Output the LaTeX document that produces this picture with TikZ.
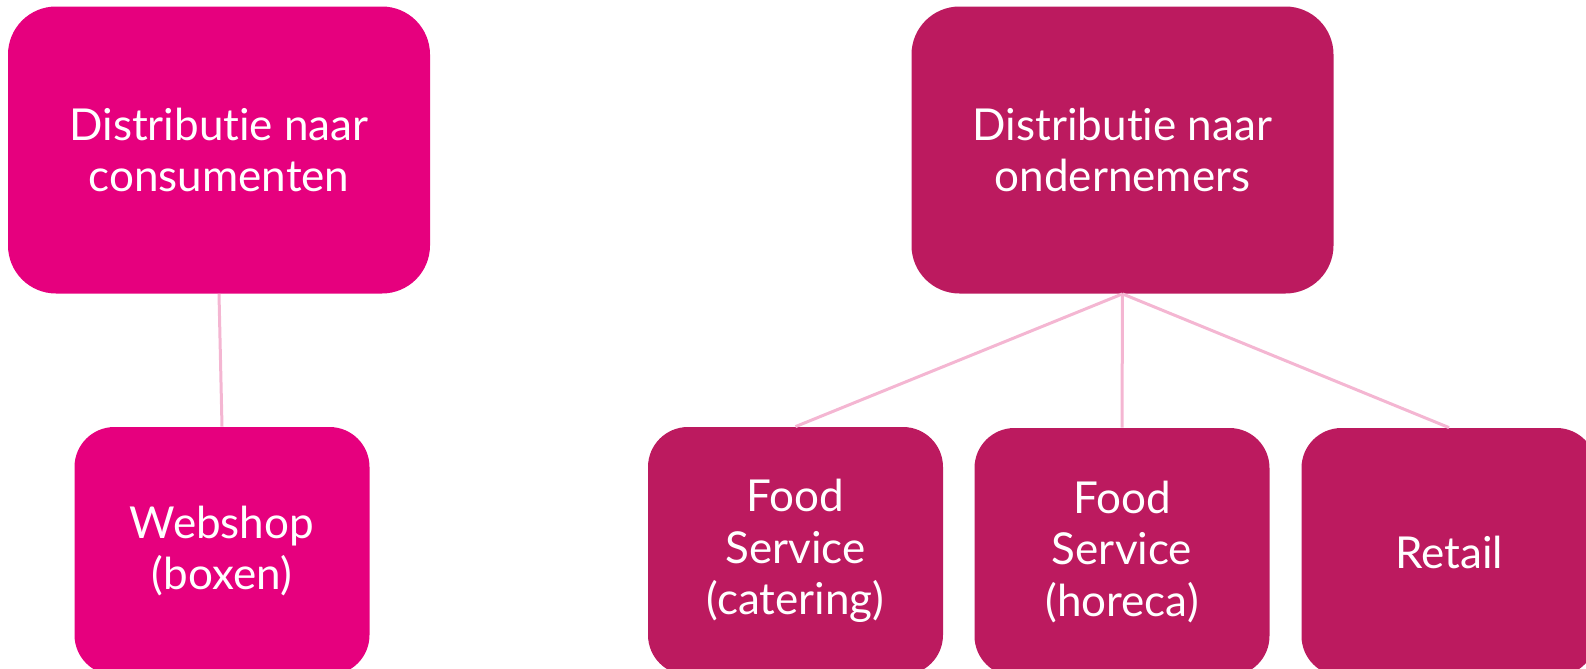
\documentclass[tikz,border=0pt]{standalone}
\usepackage{fontspec}
\setmainfont{Lato}[Ligatures={NoCommon}]
\definecolor{consumer}{HTML}{E6007E}
\definecolor{business}{HTML}{BC1A5F}
\definecolor{linkpink}{HTML}{F4B6D2}
\tikzset{bigbox/.style = {rectangle, rounded corners=24pt, minimum width=211pt, minimum height=143.5pt, text=white, align=center, font=\fontsize{22}{25.5}\selectfont}}
\tikzset{smallbox/.style = {rectangle, rounded corners=20pt, minimum width=147.5pt, minimum height=124pt, text=white, align=center, font=\fontsize{22}{25.8}\selectfont}}
\tikzset{branch/.style = {draw=linkpink, line width=1.5pt}}

\begin{document}
\begin{tikzpicture}[x=0.5pt, y=-0.5pt]
		\useasboundingbox (0,0) rectangle (1586,669);
		
		% Top level
		\node[bigbox, fill=consumer] (cons) at (219,150) {Distributie naar\\consumenten};
		\node[bigbox, fill=business] (onder) at (1122.5,150) {Distributie naar\\ondernemers};
		
		% Second level
		\node[smallbox, fill=consumer] (web) at (222,551) {Webshop\\(boxen)};
		\node[smallbox, fill=business] (cater) at (795.5,551) {Food\\Service\\(catering)};
		\node[smallbox, fill=business] (horeca) at (1122,552) {Food\\Service\\(horeca)};
		\node[smallbox, fill=business] (retail) at (1449,552) {Retail};
		
		% Lines
		\draw[branch] (cons.south) -- (web.north);
		\draw[branch] (onder.south) -- (cater.north);
		\draw[branch] (onder.south) -- (horeca.north);
		\draw[branch] (onder.south) -- (retail.north);
	\end{tikzpicture}
\end{document}
